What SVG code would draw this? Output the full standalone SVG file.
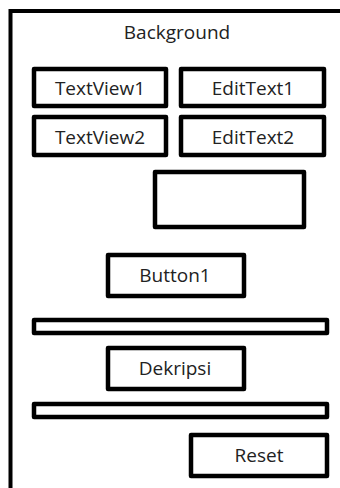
<svg xmlns="http://www.w3.org/2000/svg" width="340" height="488" viewBox="0 0 340 488">
  <style>
    .box { fill: #ffffff; stroke: #000000; stroke-width: 4.5; stroke-linejoin: round; }
    .frame { fill: none; stroke: #000000; stroke-width: 4; }
    .lbl { font-family: "Open Sans", "Noto Sans", sans-serif; font-size: 19px; fill: #222222; text-anchor: middle; }
  </style>
  <rect width="340" height="488" fill="#ffffff"/>
  <!-- screen frame (continues past the right and bottom edges) -->
  <path class="frame" d="M10.5 488 V11 H340"/>
  <text class="lbl" x="177" y="39">Background</text>

  <g id="textview1"><rect class="box" x="34" y="69" width="132" height="37"/><text class="lbl" x="100" y="95">TextView1</text></g>
  <g id="edittext1"><rect class="box" x="181" y="69" width="143" height="37"/><text class="lbl" x="253" y="95">EditText1</text></g>
  <g id="textview2"><rect class="box" x="34" y="117" width="132" height="38"/><text class="lbl" x="100" y="144">TextView2</text></g>
  <g id="edittext2"><rect class="box" x="181" y="117" width="143" height="38"/><text class="lbl" x="253" y="144">EditText2</text></g>
  <g id="output"><rect class="box" x="155" y="172" width="149" height="55"/></g>
  <g id="button1"><rect class="box" x="108" y="255" width="136" height="41"/><text class="lbl" x="175" y="282">Button1</text></g>
  <g id="bar1"><rect class="box" x="34" y="320" width="293" height="13"/></g>
  <g id="dekripsi"><rect class="box" x="108" y="348" width="136" height="41"/><text class="lbl" x="175" y="375">Dekripsi</text></g>
  <g id="bar2"><rect class="box" x="34" y="404" width="293" height="13"/></g>
  <g id="reset"><rect class="box" x="191" y="435" width="136" height="41"/><text class="lbl" x="259" y="462">Reset</text></g>
  <g id="connectors"/>
</svg>
